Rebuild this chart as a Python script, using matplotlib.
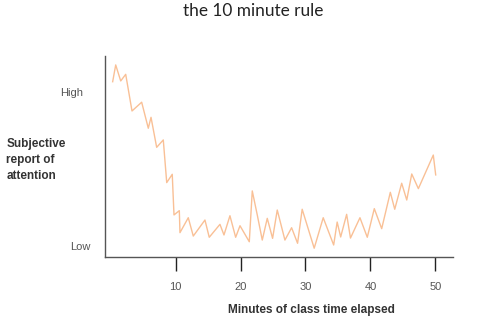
import matplotlib
matplotlib.use("Agg")
import matplotlib.pyplot as plt

minutes = [0.29, 0.76, 1.53, 2.30, 3.27, 4.76, 5.78, 6.20, 7.07, 8.09,
           8.62, 9.47, 9.74, 10.56, 10.66, 11.94, 12.71, 14.51, 15.17, 16.82,
           17.44, 18.36, 19.24, 19.91, 21.34, 21.80, 22.57, 23.34, 24.11, 24.93,
           25.65, 26.83, 27.86, 28.78, 29.49, 31.34, 32.73, 34.34, 34.88, 35.42,
           36.34, 36.93, 38.39, 39.52, 40.60, 41.74, 43.07, 43.75, 44.82, 45.60,
           46.37, 47.39, 49.69, 50.06]
attention = [10.73, 11.82, 10.78, 11.21, 8.83, 9.40, 7.71, 8.42, 6.47, 6.95,
             4.18, 4.72, 2.08, 2.36, 0.93, 1.90, 0.71, 1.75, 0.63, 1.47,
             0.78, 2.03, 0.63, 1.38, 0.34, 3.64, 2.08, 0.45, 1.86, 0.56,
             2.40, 0.45, 1.25, 0.24, 2.45, -0.08, 1.90, 0.13, 1.62, 0.65,
             2.12, 0.58, 1.90, 0.63, 2.49, 1.19, 3.55, 2.45, 4.14, 3.05,
             4.74, 3.79, 5.97, 4.68]
x_ticks = [10, 20, 30, 40, 50]
y_levels = [0, 10]
y_level_labels = ["Low", "High"]

fig = plt.figure(figsize=(4.78, 3.24), dpi=100)
ax = fig.add_axes([105/478, 1-257/324, (452.7-105)/478, (257-56)/324])
ax.plot(minutes, attention, color="#f9c096", lw=1.0)
ax.set_xlim(-0.89, 52.68)
ax.set_ylim(-0.65, 12.4)
for s in ["top", "right"]:
    ax.spines[s].set_visible(False)
for s in ["left", "bottom"]:
    ax.spines[s].set_color("#555555")
    ax.spines[s].set_linewidth(1.0)
ax.set_xticks(x_ticks)
ax.set_xticklabels([str(t) for t in x_ticks], fontsize=8, color="#555555",
                   family="Liberation Sans")
ax.tick_params(axis="x", length=10, width=1, color="#222222", pad=8)
ax.set_yticks([])

# Low / High labels
ax.text(-4.3, y_levels[1], y_level_labels[1], ha="right", va="center",
        fontsize=8, color="#555555", family="Liberation Sans")
ax.text(-3.1, y_levels[0], y_level_labels[0], ha="right", va="center",
        fontsize=8, color="#555555", family="Liberation Sans")

fig.text(6.5/478, 1-138/324, "Subjective\nreport of\nattention", ha="left", va="top",
         fontsize=8.5, fontweight="bold", color="#333333", family="Liberation Sans",
         linespacing=1.45)
fig.text(311.3/478, 1-310/324, "Minutes of class time elapsed", ha="center", va="center",
         fontsize=8.5, fontweight="bold", color="#333333", family="Liberation Sans")
fig.text(253/478, 1-11/324, "the 10 minute rule", ha="center", va="center",
         fontsize=12.4, color="#222222", family="Lato")

fig.savefig("out.png", dpi=100)
